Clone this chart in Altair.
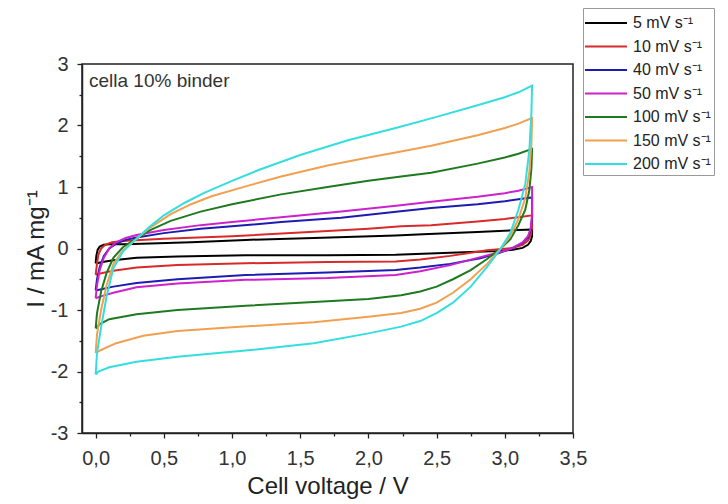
import altair as alt
import pandas as pd

FONT = "Liberation Sans"

rates = ["5 mV s⁻¹", "10 mV s⁻¹", "40 mV s⁻¹", "50 mV s⁻¹",
         "100 mV s⁻¹", "150 mV s⁻¹", "200 mV s⁻¹"]
colors = ["#000000", "#d82a2a", "#1c1cb0", "#cc22cc", "#1f7a1f", "#f0a050", "#35dede"]

# 5 mV/s
v5_up = [0, 0.005, 0.015, 0.03, 0.06, 0.1, 0.2, 0.4, 0.7, 1.1, 1.6, 2.2, 2.4, 2.8, 3.1, 3.2]
i5_up = [-0.24, -0.12, -0.02, 0.03, 0.06, 0.07, 0.07, 0.08, 0.1, 0.14, 0.17, 0.21, 0.23, 0.27, 0.3, 0.31]
v5_dn = [3.2, 3.2, 3.19, 3.17, 3.13, 3.06, 2.95, 2.6, 2.2, 1.7, 1.1, 0.6, 0.3, 0.13, 0.05, 0.01, 0]
i5_dn = [0.31, 0.2, 0.12, 0.06, 0.01, -0.02, -0.04, -0.07, -0.1, -0.11, -0.11, -0.13, -0.15, -0.19, -0.22, -0.24, -0.24]

# 10 mV/s
v10_up = [0, 0.01, 0.02, 0.04, 0.07, 0.12, 0.2, 0.5, 1.0, 1.5, 2.0, 2.24, 2.46, 2.8, 3.0, 3.1, 3.2]
i10_up = [-0.43, -0.25, -0.1, 0.0, 0.06, 0.1, 0.12, 0.16, 0.2, 0.26, 0.32, 0.36, 0.38, 0.44, 0.48, 0.51, 0.54]
v10_dn = [3.2, 3.2, 3.19, 3.17, 3.13, 3.06, 2.98, 2.87, 2.6, 2.38, 2.2, 1.7, 1.1, 0.6, 0.3, 0.13, 0.05, 0.01, 0]
i10_dn = [0.54, 0.35, 0.22, 0.13, 0.06, 0.01, -0.01, -0.03, -0.12, -0.18, -0.21, -0.22, -0.24, -0.27, -0.31, -0.36, -0.4, -0.42, -0.43]

# 40 mV/s
v40_up = [0, 0.01, 0.03, 0.06, 0.1, 0.15, 0.22, 0.3, 0.5, 0.77, 1.0, 1.36, 1.8, 2.22, 2.46, 2.8, 3.0, 3.1, 3.2]
i40_up = [-0.68, -0.5, -0.3, -0.12, 0.0, 0.08, 0.14, 0.18, 0.25, 0.32, 0.36, 0.43, 0.5, 0.6, 0.66, 0.72, 0.77, 0.8, 0.83]
v40_dn = [3.2, 3.2, 3.19, 3.17, 3.13, 3.05, 2.95, 2.82, 2.6, 2.38, 2.2, 1.7, 1.1, 0.6, 0.3, 0.13, 0.05, 0.01, 0]
i40_dn = [0.83, 0.5, 0.3, 0.18, 0.09, 0.0, -0.08, -0.16, -0.25, -0.31, -0.35, -0.39, -0.43, -0.5, -0.56, -0.62, -0.66, -0.68, -0.68]

# 50 mV/s
v50_up = [0, 0.01, 0.03, 0.06, 0.1, 0.15, 0.22, 0.3, 0.5, 0.77, 1.0, 1.36, 1.8, 2.22, 2.46, 2.8, 3.0, 3.1, 3.2]
i50_up = [-0.81, -0.6, -0.35, -0.15, 0.0, 0.1, 0.17, 0.22, 0.3, 0.38, 0.43, 0.51, 0.6, 0.7, 0.76, 0.84, 0.9, 0.94, 1.0]
v50_dn = [3.2, 3.2, 3.19, 3.17, 3.13, 3.05, 2.95, 2.82, 2.6, 2.38, 2.2, 1.7, 1.1, 0.6, 0.3, 0.13, 0.05, 0.01, 0]
i50_dn = [1.0, 0.55, 0.33, 0.2, 0.1, 0.0, -0.07, -0.14, -0.27, -0.37, -0.43, -0.48, -0.51, -0.57, -0.63, -0.72, -0.77, -0.8, -0.81]

# 100 mV/s
v100_up = [0, 0.01, 0.04, 0.08, 0.13, 0.2, 0.29, 0.4, 0.55, 0.77, 1.0, 1.36, 1.7, 2.0, 2.24, 2.46, 2.8, 3.0, 3.1, 3.2]
i100_up = [-1.3, -1.05, -0.7, -0.4, -0.15, 0.02, 0.15, 0.3, 0.45, 0.6, 0.72, 0.88, 1.0, 1.1, 1.17, 1.23, 1.38, 1.48, 1.54, 1.62]
v100_dn = [3.2, 3.195, 3.18, 3.15, 3.1, 3.04, 2.97, 2.87, 2.75, 2.62, 2.5, 2.38, 2.24, 2.0, 1.6, 1.1, 0.6, 0.3, 0.1, 0.03, 0]
i100_dn = [1.62, 1.3, 0.95, 0.63, 0.38, 0.15, 0.0, -0.17, -0.35, -0.5, -0.62, -0.7, -0.76, -0.82, -0.87, -0.93, -1.0, -1.07, -1.15, -1.23, -1.3]

# 150 mV/s
v150_up = [0, 0.01, 0.04, 0.08, 0.13, 0.2, 0.29, 0.4, 0.55, 0.7, 0.85, 1.1, 1.36, 1.7, 2.0, 2.22, 2.46, 2.8, 3.0, 3.1, 3.2]
i150_up = [-1.7, -1.4, -1.0, -0.6, -0.25, -0.03, 0.14, 0.34, 0.56, 0.72, 0.85, 1.01, 1.17, 1.35, 1.48, 1.57, 1.67, 1.84, 1.96, 2.03, 2.12]
v150_dn = [3.2, 3.195, 3.18, 3.15, 3.1, 3.04, 2.97, 2.87, 2.75, 2.62, 2.5, 2.38, 2.24, 2.0, 1.6, 1.0, 0.6, 0.35, 0.15, 0.04, 0]
i150_dn = [2.12, 1.7, 1.25, 0.82, 0.48, 0.2, 0.0, -0.25, -0.5, -0.72, -0.88, -0.98, -1.05, -1.11, -1.2, -1.28, -1.34, -1.42, -1.54, -1.65, -1.7]

# 200 mV/s
v200_up = [0, 0.01, 0.04, 0.08, 0.13, 0.2, 0.29, 0.4, 0.5, 0.65, 0.8, 1.0, 1.2, 1.5, 1.85, 2.2, 2.5, 2.8, 3.0, 3.1, 3.2]
i200_up = [-2.05, -1.7, -1.28, -0.78, -0.32, -0.05, 0.14, 0.36, 0.54, 0.74, 0.91, 1.1, 1.28, 1.52, 1.76, 1.96, 2.14, 2.33, 2.46, 2.54, 2.65]
v200_dn = [3.2, 3.195, 3.18, 3.15, 3.1, 3.04, 2.97, 2.87, 2.75, 2.62, 2.5, 2.38, 2.24, 2.0, 1.6, 1.1, 0.6, 0.3, 0.1, 0.02, 0]
i200_dn = [2.65, 2.2, 1.6, 1.05, 0.63, 0.25, 0.0, -0.3, -0.62, -0.88, -1.05, -1.18, -1.27, -1.38, -1.54, -1.66, -1.76, -1.84, -1.93, -2.0, -2.05]

series = [
    (v5_up, i5_up, v5_dn, i5_dn),
    (v10_up, i10_up, v10_dn, i10_dn),
    (v40_up, i40_up, v40_dn, i40_dn),
    (v50_up, i50_up, v50_dn, i50_dn),
    (v100_up, i100_up, v100_dn, i100_dn),
    (v150_up, i150_up, v150_dn, i150_dn),
    (v200_up, i200_up, v200_dn, i200_dn),
]

rows = []
for name, (vu, iu, vd, idn) in zip(rates, series):
    k = 0
    for v, i in zip(vu + vd, iu + idn):
        rows.append({"rate": name, "V": v, "I": i, "idx": k})
        k += 1
df = pd.DataFrame(rows)

x_vals = [i * 0.25 for i in range(0, 15)]
y_vals = [-3 + i * 0.5 for i in range(0, 13)]

x_axis = alt.Axis(
    values=x_vals,
    labelExpr="(datum.value*4) % 2 != 0 ? '' : replace(format(datum.value, '.1f'), '.', ',')",
    tickSize={"condition": {"test": "(datum.value*4) % 2 != 0", "value": 3}, "value": 5},
    labelPadding=10, titlePadding=6, labelFlush=False, labelOverlap=False,
)
y_axis = alt.Axis(
    values=y_vals,
    labelExpr="(datum.value*2) % 2 != 0 ? '' : (datum.value < 0 ? '-' + format(-datum.value, 'd') : format(datum.value, 'd'))",
    tickSize={"condition": {"test": "(datum.value*2) % 2 != 0", "value": 3}, "value": 5},
    labelPadding=9, titlePadding=2, labelFlush=False, labelOverlap=False,
)

lines = alt.Chart(df).mark_line(strokeWidth=2, clip=True).encode(
    x=alt.X("V:Q", title="Cell voltage / V",
            scale=alt.Scale(domain=[-0.1, 3.5], nice=False, zero=False), axis=x_axis),
    y=alt.Y("I:Q", title="I  / mA mg⁻¹",
            scale=alt.Scale(domain=[-3, 3], nice=False), axis=y_axis),
    color=alt.Color("rate:N", scale=alt.Scale(domain=rates, range=colors),
                    legend=alt.Legend(
                        title=None, orient="none", legendX=501, legendY=-56,
                        padding=3, strokeColor="#9a9a9a", fillColor="white",
                        symbolType="M-2,0H2", symbolSize=441, symbolStrokeWidth=2.2,
                        symbolOffset=8, labelOffset=15, rowPadding=3.5,
                        labelFont=FONT, labelFontSize=16, labelColor="#222",
                    )),
    order=alt.Order("idx:Q"),
)

note = alt.Chart(pd.DataFrame({"t": ["cella 10% binder"]})).mark_text(
    align="left", baseline="middle", font=FONT, fontSize=19, color="#333"
).encode(x=alt.value(7), y=alt.value(17), text="t:N")

chart = alt.layer(lines, note).properties(
    width=491, height=369,
    autosize=alt.AutoSizeParams(type="none"),
    padding={"left": 82, "top": 64, "right": 155, "bottom": 71},
    background="white",
).configure_view(
    stroke="#222", strokeWidth=1.5
).configure_axis(
    grid=False, domainColor="#222", domainWidth=1.5, tickColor="#222", tickWidth=1.3,
    labelFont=FONT, labelFontSize=20, labelColor="#333",
    titleFont=FONT, titleFontSize=24, titleFontWeight="normal", titleColor="#222",
)

chart.save("out.html", embed_options={"renderer": "svg", "actions": False})
